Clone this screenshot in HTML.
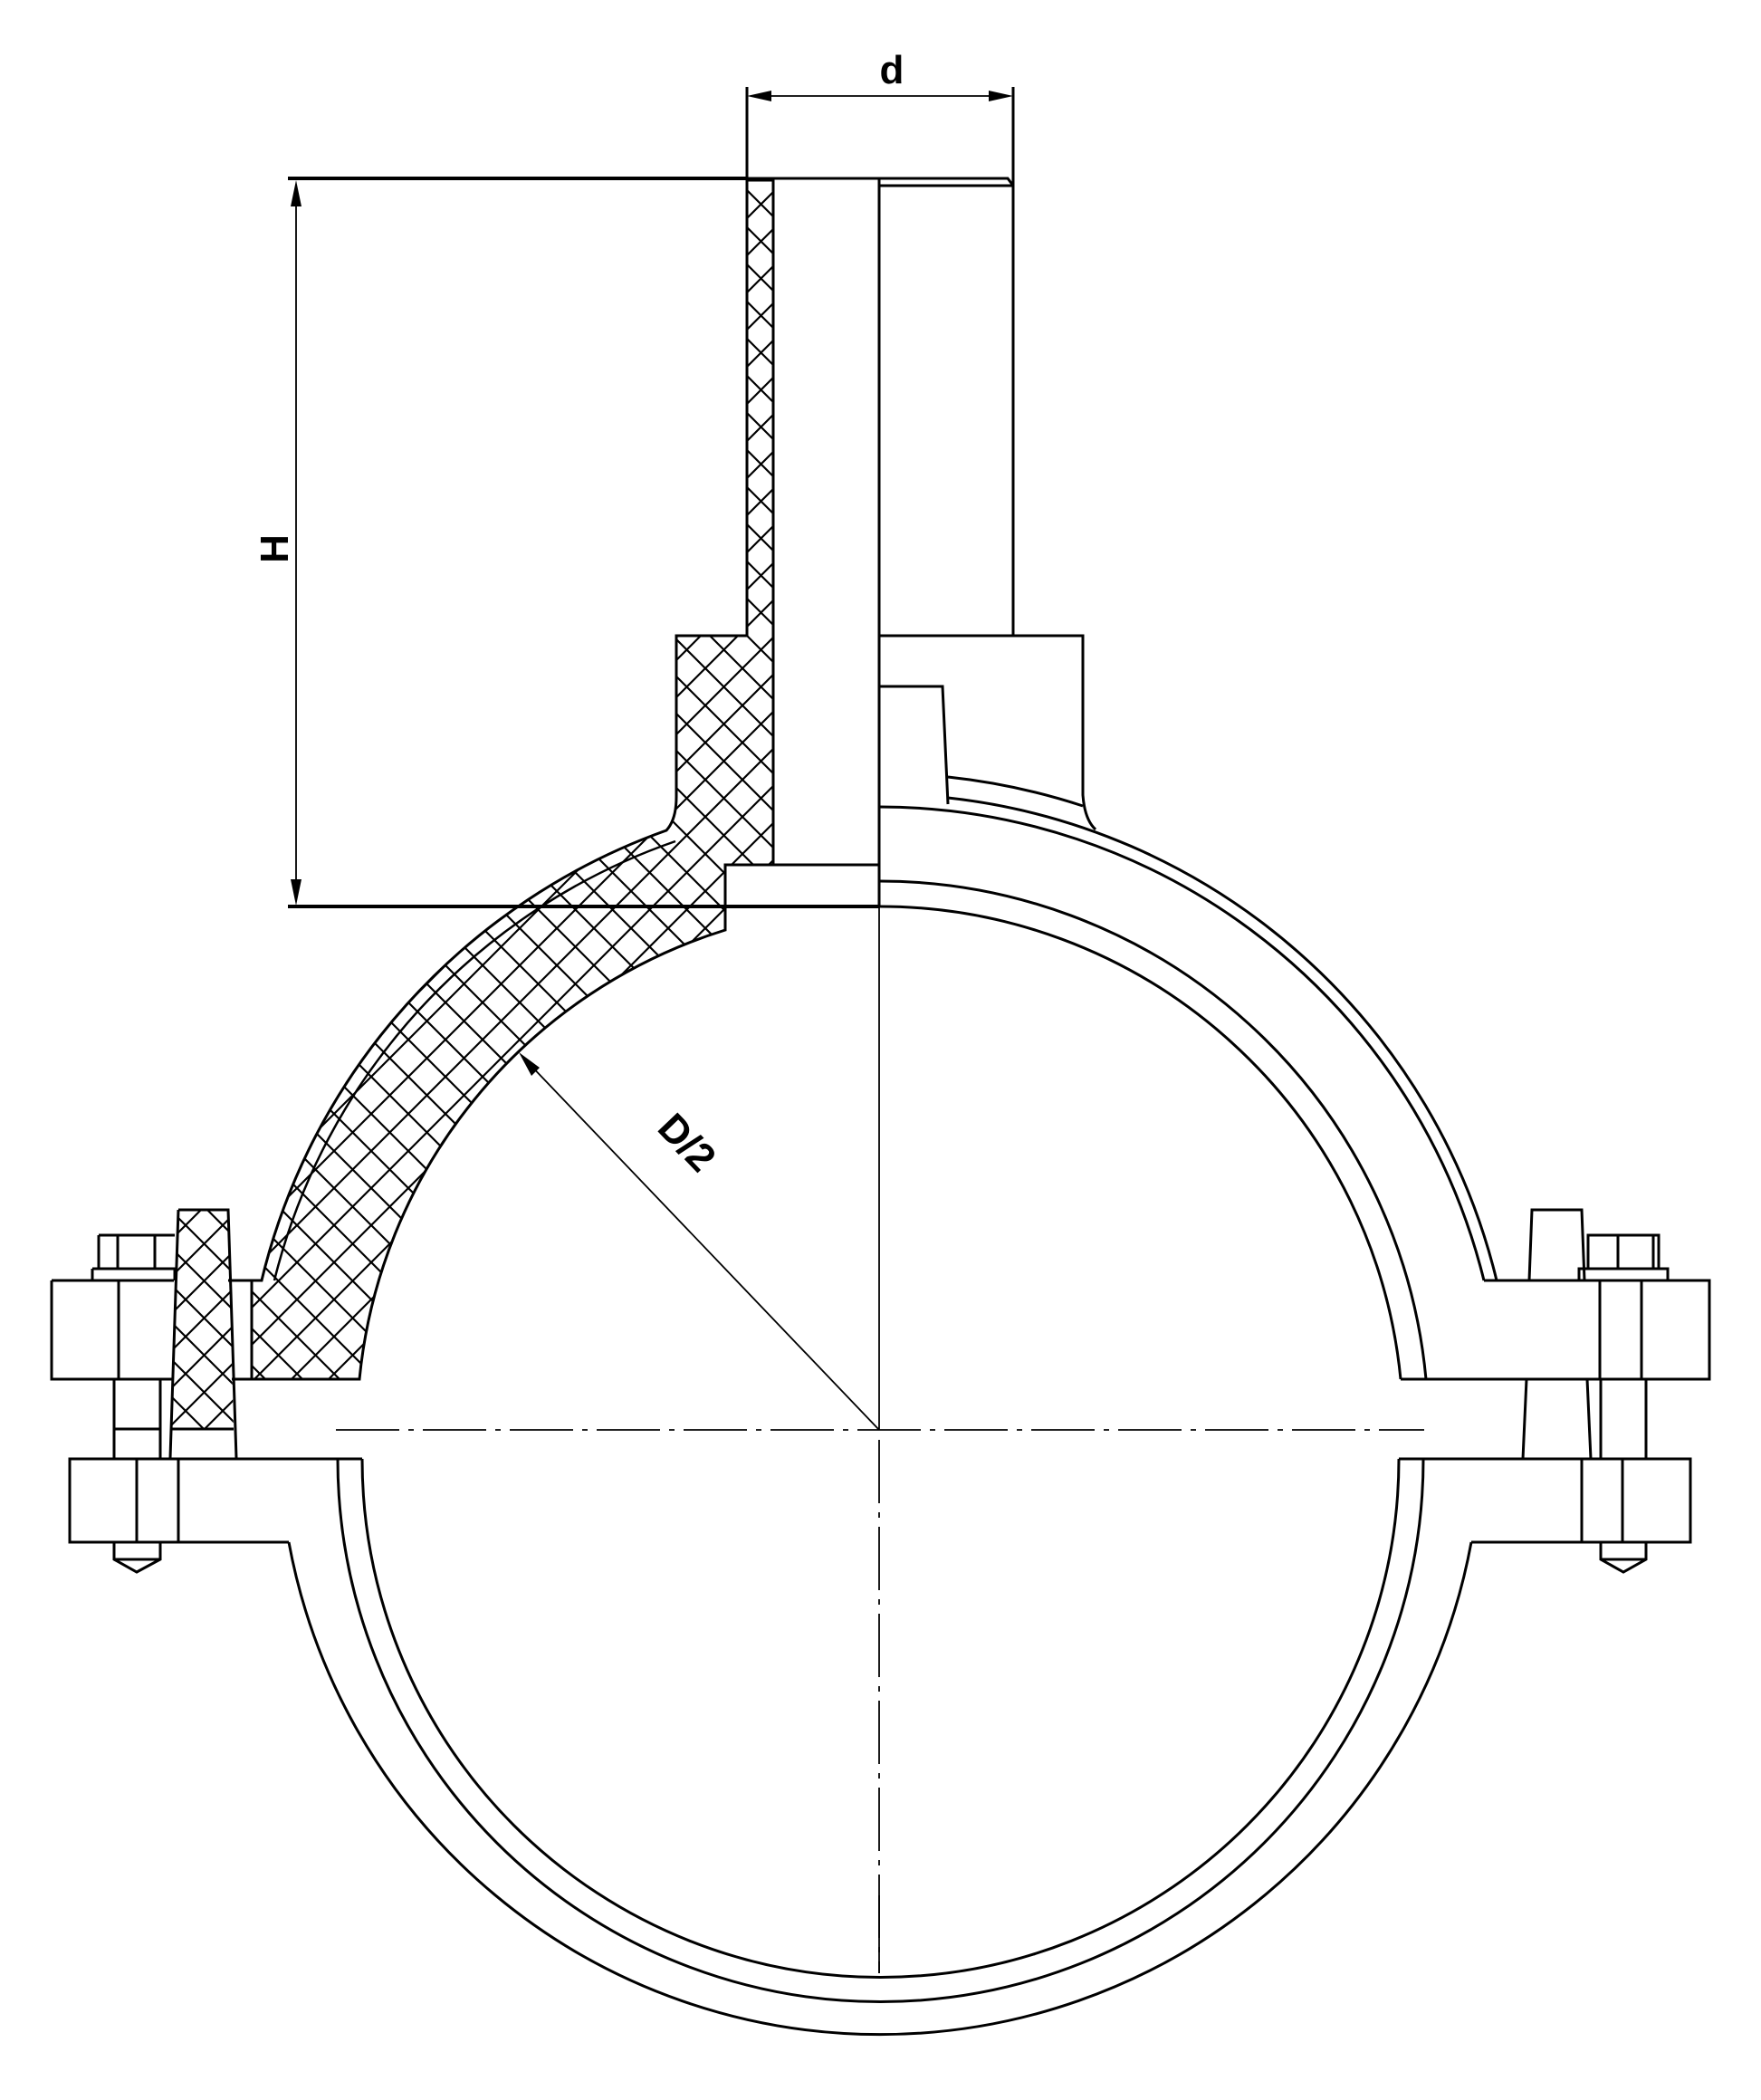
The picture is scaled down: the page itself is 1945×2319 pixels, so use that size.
<!DOCTYPE html>
<html><head><meta charset="utf-8"><style>html,body{margin:0;padding:0;background:#fff}svg{display:block}</style></head>
<body>
<svg width="1945" height="2319" viewBox="0 0 1945 2319" xmlns="http://www.w3.org/2000/svg">
<defs>
<pattern id="h" patternUnits="userSpaceOnUse" width="41" height="41">
<path d="M0,0 L41,41 M41,0 L0,41 M-5,36 L5,46 M36,-5 L46,5 M-5,5 L5,-5 M36,46 L46,36" stroke="#000" stroke-width="2.2" fill="none"/>
</pattern>
<pattern id="hs" patternUnits="userSpaceOnUse" width="29" height="29">
<path d="M0,0 L29,29 M29,0 L0,29" stroke="#000" stroke-width="2" fill="none"/>
</pattern>
</defs>
<g fill="none" stroke="#000" stroke-width="3" stroke-linejoin="miter">
<!-- hatched saddle -->
<path fill="url(#h)" d="M825,199 L854,199 L854,955 L801,955 L801,1027 A578,578 0 0,0 397,1523 L278,1523 L278,1414 L289,1414 A702,702 0 0,1 736,917 Q747,905 747,880 L747,702 L825,702 Z"/>
<path d="M303,1414 A688,688 0 0,1 746,929" stroke-width="2.5"/>
<!-- gasket -->
<path fill="url(#h)" stroke="none" d="M197,1336 L252,1336 L258,1578 L189,1578 Z"/>
<path d="M197,1336 L252,1336 L261,1610 M197,1336 L188,1610 M189,1578 L258,1578"/>
<!-- top lines -->
<path d="M318,197 L825,197" stroke-width="4"/>
<path d="M825,197 L1113,197 L1119,205 L1119,702"/>
<path d="M971,205 L1119,205"/>
<path d="M854,199 L854,955"/>
<path d="M971,197 L971,1001"/>
<!-- plug -->
<path d="M801,955 L971,955"/>
<path d="M318,1001 L971,1001" stroke-width="4"/>
<!-- right boss -->
<path d="M971,702 L1196,702 L1196,878 Q1198,905 1210,916"/>
<path d="M971,758 L1041,758 L1047,888"/>
<path d="M1047,858 A725,725 0 0,1 1196,890"/>
<path d="M1047,881 L1047,881 A702,702 0 0,1 1653,1414"/>
<path d="M1210,916 A702,702 0 0,1 1653,1414" stroke="none"/>
<path d="M971,891 A688,688 0 0,1 1639,1414"/>
<!-- right pipe & band upper -->
<path d="M971,1001 A578,578 0 0,1 1547,1523"/>
<path d="M971,973 A606,606 0 0,1 1575,1523"/>
<!-- left flange -->
<path d="M57,1414 L192,1414 M57,1414 L57,1523 L192,1523 M131,1414 L131,1523"/>
<path d="M252,1414 L289,1414 M256,1523 L397,1523 M278,1414 L278,1523"/>
<path d="M102,1401 L193,1401 L193,1414 M102,1401 L102,1414"/>
<path d="M109,1364 L193,1364 M109,1364 L109,1401 M130,1364 L130,1401 M171,1364 L171,1401"/>
<path d="M126,1523 L126,1611 M177,1523 L177,1611 M126,1578 L177,1578"/>
<path d="M400,1611 L77,1611 L77,1703 L319,1703 M151,1611 L151,1703 M197,1611 L197,1703"/>
<path d="M126,1703 L126,1722 L151,1736 L177,1722 L177,1703 M126,1722 L177,1722"/>
<!-- right flange -->
<path d="M1639,1414 L1888,1414 L1888,1523 L1547,1523 M1767,1414 L1767,1523 M1813,1414 L1813,1523"/>
<path d="M1689,1414 L1692,1336 L1747,1336 L1750,1414"/>
<path d="M1744,1414 L1744,1401 L1842,1401 L1842,1414 M1754,1401 L1754,1364 L1832,1364 L1832,1401 M1787,1364 L1787,1401 M1826,1364 L1826,1401"/>
<path d="M1686,1523 L1682,1611 M1753,1523 L1757,1611 M1768,1523 L1768,1611 M1818,1523 L1818,1611"/>
<path d="M1545,1611 L1867,1611 L1867,1703 L1625,1703 M1747,1611 L1747,1703 M1792,1611 L1792,1703"/>
<path d="M1768,1703 L1768,1722 L1793,1736 L1818,1722 L1818,1703 M1768,1722 L1818,1722"/>
<!-- lower arcs -->
<path d="M400,1611 A572,572 0 0,0 1545,1611"/>
<path d="M373,1611 A599,599 0 0,0 1572,1611"/>
<path d="M319,1703 A664,664 0 0,0 1625,1703"/>
</g>
<!-- thin lines: centre lines & dims -->
<g fill="none" stroke="#000" stroke-width="1.8">
<path d="M971,1001 L971,1579"/>
<path d="M371,1579 L1573,1579" stroke-dasharray="70 10 6 10"/>
<path d="M971,1590 L971,2179" stroke-dasharray="70 10 6 10"/>
<path d="M971,2093 L971,2179"/>
<path d="M327,210 L327,990"/>
<path d="M835,106 L1109,106"/>
<path d="M825,96 L825,197 M1119,96 L1119,205" stroke-width="3"/>
<path d="M971,1579 L580,1170"/>
</g>
<g fill="#000" stroke="none">
<path d="M327,199 L321,228 L333,228 Z"/>
<path d="M327,1000 L321,971 L333,971 Z"/>
<path d="M825,106 L852,100 L852,112 Z"/>
<path d="M1119,106 L1092,100 L1092,112 Z"/>
<path d="M573,1162 L587,1188 L596,1179 Z"/>
</g>
<g font-family="Liberation Sans, sans-serif" font-weight="bold" font-size="44" fill="#000">
<text x="985" y="92" text-anchor="middle">d</text>
<text x="0" y="0" text-anchor="middle" transform="translate(318,606) rotate(-90)">H</text>
<text x="0" y="0" text-anchor="middle" transform="translate(748,1272) rotate(46.3)">D/2</text>
</g>
</svg>
</body></html>
